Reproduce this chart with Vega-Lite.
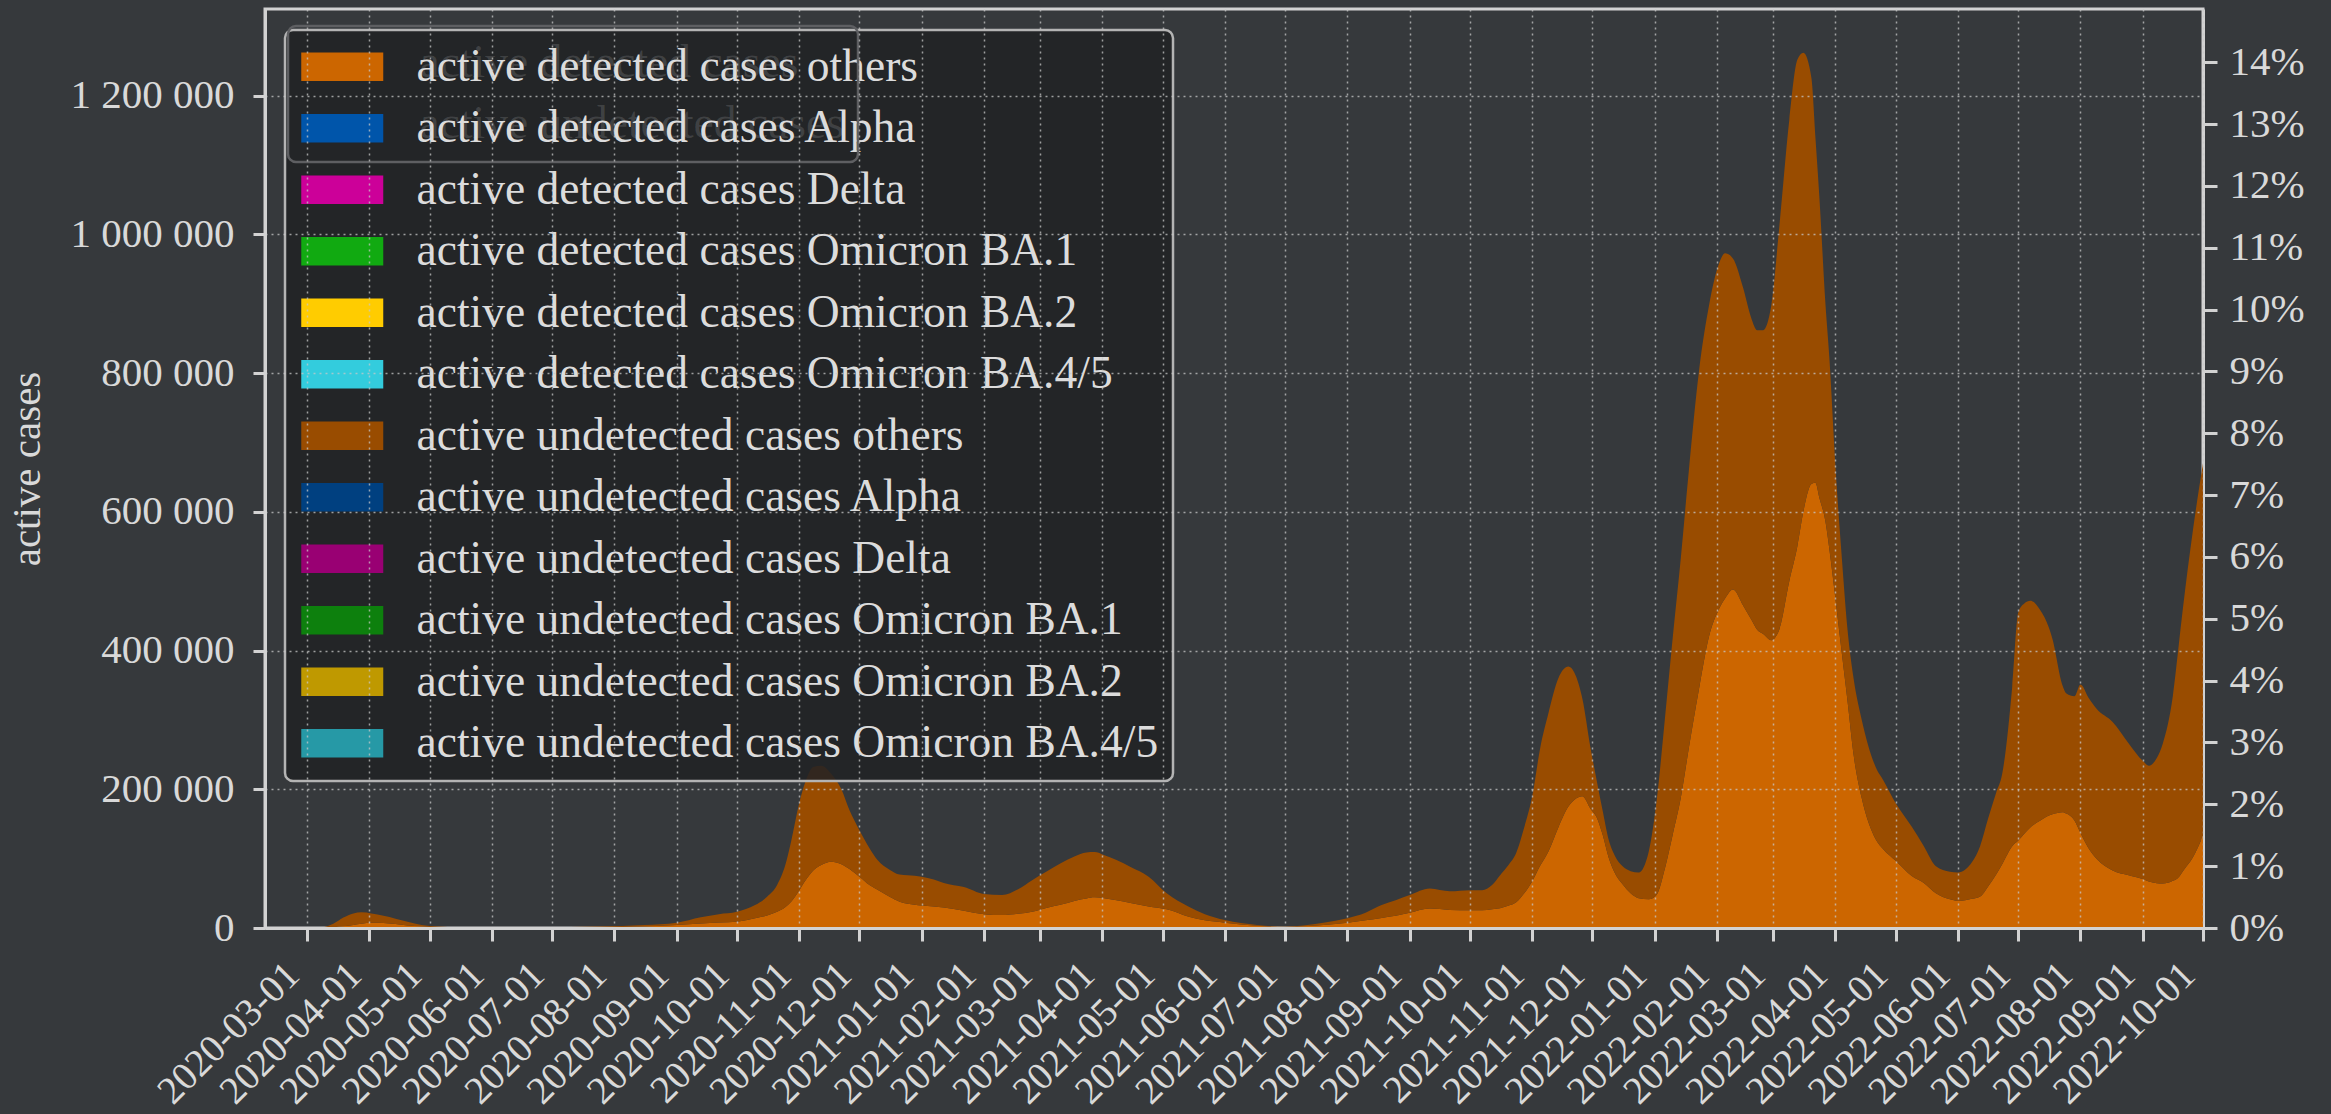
{
  "$schema": "https://vega.github.io/schema/vega-lite/v6.json",
  "width": 1938,
  "height": 919,
  "autosize": {"type": "none"},
  "padding": {"left": 265, "top": 9, "right": 128, "bottom": 186},
  "background": "#36393c",
  "config": {
    "font": "Liberation Serif",
    "locale": {"number": {"decimal": ".", "thousands": " ", "grouping": [3], "currency": ["", ""]}},
    "view": {"stroke": "#d2d2d2", "strokeWidth": 3},
    "axis": {
      "labelFont": "Liberation Serif",
      "labelFontSize": 41,
      "labelColor": "#d9d9d9",
      "titleFont": "Liberation Serif",
      "titleFontSize": 41,
      "titleColor": "#d9d9d9",
      "titleFontWeight": "normal",
      "domainColor": "#d2d2d2",
      "domainWidth": 3,
      "tickColor": "#d2d2d2",
      "tickWidth": 3,
      "tickSize": 13,
      "gridColor": "#c8c8c8",
      "gridDash": [2, 4],
      "gridWidth": 1.5,
      "gridOpacity": 0.75
    }
  },
  "datasets": {
    "active": [
      {"date": "2020-03-01", "active detected cases others": 0, "active undetected cases others": 0},
      {"date": "2020-03-08", "active detected cases others": 100, "active undetected cases others": 500},
      {"date": "2020-03-14", "active detected cases others": 900, "active undetected cases others": 5100},
      {"date": "2020-03-19", "active detected cases others": 2500, "active undetected cases others": 12500},
      {"date": "2020-03-24", "active detected cases others": 4500, "active undetected cases others": 16500},
      {"date": "2020-03-28", "active detected cases others": 6300, "active undetected cases others": 16300},
      {"date": "2020-04-02", "active detected cases others": 7600, "active undetected cases others": 13400},
      {"date": "2020-04-08", "active detected cases others": 7200, "active undetected cases others": 10300},
      {"date": "2020-04-14", "active detected cases others": 5600, "active undetected cases others": 7900},
      {"date": "2020-04-20", "active detected cases others": 3600, "active undetected cases others": 5400},
      {"date": "2020-04-27", "active detected cases others": 2000, "active undetected cases others": 2500},
      {"date": "2020-05-05", "active detected cases others": 1000, "active undetected cases others": 1200},
      {"date": "2020-05-15", "active detected cases others": 600, "active undetected cases others": 500},
      {"date": "2020-06-01", "active detected cases others": 400, "active undetected cases others": 200},
      {"date": "2020-06-20", "active detected cases others": 450, "active undetected cases others": 250},
      {"date": "2020-07-10", "active detected cases others": 800, "active undetected cases others": 500},
      {"date": "2020-07-25", "active detected cases others": 1100, "active undetected cases others": 900},
      {"date": "2020-08-05", "active detected cases others": 1500, "active undetected cases others": 1400},
      {"date": "2020-08-16", "active detected cases others": 2200, "active undetected cases others": 2100},
      {"date": "2020-09-01", "active detected cases others": 4300, "active undetected cases others": 3300},
      {"date": "2020-09-13", "active detected cases others": 6500, "active undetected cases others": 9000},
      {"date": "2020-09-22", "active detected cases others": 8000, "active undetected cases others": 12000},
      {"date": "2020-10-01", "active detected cases others": 9100, "active undetected cases others": 14400},
      {"date": "2020-10-10", "active detected cases others": 14000, "active undetected cases others": 19000},
      {"date": "2020-10-16", "active detected cases others": 18000, "active undetected cases others": 27000},
      {"date": "2020-10-21", "active detected cases others": 23500, "active undetected cases others": 38500},
      {"date": "2020-10-25", "active detected cases others": 30000, "active undetected cases others": 60000},
      {"date": "2020-10-28", "active detected cases others": 38000, "active undetected cases others": 87000},
      {"date": "2020-11-01", "active detected cases others": 54000, "active undetected cases others": 126000},
      {"date": "2020-11-04", "active detected cases others": 68000, "active undetected cases others": 142000},
      {"date": "2020-11-08", "active detected cases others": 83000, "active undetected cases others": 149000},
      {"date": "2020-11-12", "active detected cases others": 91000, "active undetected cases others": 143000},
      {"date": "2020-11-17", "active detected cases others": 95600, "active undetected cases others": 126400},
      {"date": "2020-11-22", "active detected cases others": 92000, "active undetected cases others": 108000},
      {"date": "2020-11-26", "active detected cases others": 85000, "active undetected cases others": 85000},
      {"date": "2020-12-01", "active detected cases others": 74000, "active undetected cases others": 67000},
      {"date": "2020-12-06", "active detected cases others": 62000, "active undetected cases others": 53000},
      {"date": "2020-12-10", "active detected cases others": 55000, "active undetected cases others": 43000},
      {"date": "2020-12-16", "active detected cases others": 45000, "active undetected cases others": 39000},
      {"date": "2020-12-21", "active detected cases others": 38000, "active undetected cases others": 39000},
      {"date": "2020-12-25", "active detected cases others": 35000, "active undetected cases others": 41000},
      {"date": "2021-01-01", "active detected cases others": 32500, "active undetected cases others": 41500},
      {"date": "2021-01-07", "active detected cases others": 31000, "active undetected cases others": 39000},
      {"date": "2021-01-12", "active detected cases others": 29500, "active undetected cases others": 35500},
      {"date": "2021-01-22", "active detected cases others": 25000, "active undetected cases others": 34000},
      {"date": "2021-02-01", "active detected cases others": 20000, "active undetected cases others": 29000},
      {"date": "2021-02-10", "active detected cases others": 18700, "active undetected cases others": 28800},
      {"date": "2021-02-18", "active detected cases others": 20500, "active undetected cases others": 35500},
      {"date": "2021-02-25", "active detected cases others": 23500, "active undetected cases others": 45500},
      {"date": "2021-03-04", "active detected cases others": 29000, "active undetected cases others": 52000},
      {"date": "2021-03-11", "active detected cases others": 33500, "active undetected cases others": 59500},
      {"date": "2021-03-18", "active detected cases others": 39000, "active undetected cases others": 64000},
      {"date": "2021-03-24", "active detected cases others": 42500, "active undetected cases others": 66500},
      {"date": "2021-03-28", "active detected cases others": 44200, "active undetected cases others": 65300},
      {"date": "2021-04-02", "active detected cases others": 43000, "active undetected cases others": 62000},
      {"date": "2021-04-08", "active detected cases others": 40000, "active undetected cases others": 58000},
      {"date": "2021-04-15", "active detected cases others": 36000, "active undetected cases others": 52000},
      {"date": "2021-04-24", "active detected cases others": 31000, "active undetected cases others": 43000},
      {"date": "2021-05-03", "active detected cases others": 27000, "active undetected cases others": 23000},
      {"date": "2021-05-14", "active detected cases others": 16300, "active undetected cases others": 14400},
      {"date": "2021-05-22", "active detected cases others": 11000, "active undetected cases others": 9000},
      {"date": "2021-06-01", "active detected cases others": 7600, "active undetected cases others": 3900},
      {"date": "2021-06-17", "active detected cases others": 3200, "active undetected cases others": 1100},
      {"date": "2021-07-01", "active detected cases others": 1500, "active undetected cases others": 400},
      {"date": "2021-07-10", "active detected cases others": 2500, "active undetected cases others": 1000},
      {"date": "2021-07-20", "active detected cases others": 4500, "active undetected cases others": 3100},
      {"date": "2021-08-01", "active detected cases others": 7600, "active undetected cases others": 6400},
      {"date": "2021-08-10", "active detected cases others": 11000, "active undetected cases others": 11000},
      {"date": "2021-08-18", "active detected cases others": 14500, "active undetected cases others": 18500},
      {"date": "2021-08-25", "active detected cases others": 17500, "active undetected cases others": 22500},
      {"date": "2021-09-01", "active detected cases others": 22000, "active undetected cases others": 25600},
      {"date": "2021-09-11", "active detected cases others": 28000, "active undetected cases others": 29000},
      {"date": "2021-09-21", "active detected cases others": 26000, "active undetected cases others": 27000},
      {"date": "2021-10-01", "active detected cases others": 25500, "active undetected cases others": 29000},
      {"date": "2021-10-07", "active detected cases others": 25500, "active undetected cases others": 29000},
      {"date": "2021-10-12", "active detected cases others": 27000, "active undetected cases others": 35000},
      {"date": "2021-10-16", "active detected cases others": 28500, "active undetected cases others": 47500},
      {"date": "2021-10-20", "active detected cases others": 32000, "active undetected cases others": 58000},
      {"date": "2021-10-24", "active detected cases others": 37000, "active undetected cases others": 71000},
      {"date": "2021-10-28", "active detected cases others": 50000, "active undetected cases others": 95000},
      {"date": "2021-11-01", "active detected cases others": 67500, "active undetected cases others": 122500},
      {"date": "2021-11-05", "active detected cases others": 90000, "active undetected cases others": 170000},
      {"date": "2021-11-09", "active detected cases others": 110000, "active undetected cases others": 199000},
      {"date": "2021-11-14", "active detected cases others": 145000, "active undetected cases others": 215000},
      {"date": "2021-11-19", "active detected cases others": 175000, "active undetected cases others": 202000},
      {"date": "2021-11-22", "active detected cases others": 185000, "active undetected cases others": 183000},
      {"date": "2021-11-26", "active detected cases others": 190000, "active undetected cases others": 140000},
      {"date": "2021-11-30", "active detected cases others": 172000, "active undetected cases others": 88000},
      {"date": "2021-12-03", "active detected cases others": 160000, "active undetected cases others": 54000},
      {"date": "2021-12-06", "active detected cases others": 135000, "active undetected cases others": 35000},
      {"date": "2021-12-09", "active detected cases others": 102000, "active undetected cases others": 26000},
      {"date": "2021-12-12", "active detected cases others": 80000, "active undetected cases others": 25000},
      {"date": "2021-12-16", "active detected cases others": 63000, "active undetected cases others": 26000},
      {"date": "2021-12-20", "active detected cases others": 50000, "active undetected cases others": 32000},
      {"date": "2021-12-24", "active detected cases others": 43000, "active undetected cases others": 37000},
      {"date": "2021-12-29", "active detected cases others": 41500, "active undetected cases others": 68500},
      {"date": "2022-01-02", "active detected cases others": 48000, "active undetected cases others": 137000},
      {"date": "2022-01-06", "active detected cases others": 85000, "active undetected cases others": 215000},
      {"date": "2022-01-10", "active detected cases others": 135000, "active undetected cases others": 285000},
      {"date": "2022-01-14", "active detected cases others": 188000, "active undetected cases others": 346000},
      {"date": "2022-01-18", "active detected cases others": 260000, "active undetected cases others": 400000},
      {"date": "2022-01-23", "active detected cases others": 344000, "active undetected cases others": 458000},
      {"date": "2022-01-28", "active detected cases others": 420000, "active undetected cases others": 477000},
      {"date": "2022-02-02", "active detected cases others": 460000, "active undetected cases others": 498000},
      {"date": "2022-02-05", "active detected cases others": 475000, "active undetected cases others": 498000},
      {"date": "2022-02-09", "active detected cases others": 488000, "active undetected cases others": 477000},
      {"date": "2022-02-14", "active detected cases others": 465000, "active undetected cases others": 458000},
      {"date": "2022-02-18", "active detected cases others": 445000, "active undetected cases others": 435000},
      {"date": "2022-02-21", "active detected cases others": 430000, "active undetected cases others": 432000},
      {"date": "2022-02-24", "active detected cases others": 424000, "active undetected cases others": 438000},
      {"date": "2022-02-28", "active detected cases others": 415000, "active undetected cases others": 482000},
      {"date": "2022-03-04", "active detected cases others": 430000, "active undetected cases others": 580000},
      {"date": "2022-03-09", "active detected cases others": 500000, "active undetected cases others": 665000},
      {"date": "2022-03-13", "active detected cases others": 550000, "active undetected cases others": 702000},
      {"date": "2022-03-16", "active detected cases others": 600000, "active undetected cases others": 662000},
      {"date": "2022-03-20", "active detected cases others": 640000, "active undetected cases others": 586000},
      {"date": "2022-03-22", "active detected cases others": 642000, "active undetected cases others": 498000},
      {"date": "2022-03-24", "active detected cases others": 620000, "active undetected cases others": 433000},
      {"date": "2022-03-27", "active detected cases others": 586000, "active undetected cases others": 314000},
      {"date": "2022-03-29", "active detected cases others": 545000, "active undetected cases others": 275000},
      {"date": "2022-04-01", "active detected cases others": 474000, "active undetected cases others": 190000},
      {"date": "2022-04-04", "active detected cases others": 400000, "active undetected cases others": 140000},
      {"date": "2022-04-07", "active detected cases others": 327000, "active undetected cases others": 103000},
      {"date": "2022-04-10", "active detected cases others": 250000, "active undetected cases others": 110000},
      {"date": "2022-04-14", "active detected cases others": 188000, "active undetected cases others": 113000},
      {"date": "2022-04-21", "active detected cases others": 128000, "active undetected cases others": 104000},
      {"date": "2022-04-25", "active detected cases others": 113000, "active undetected cases others": 99000},
      {"date": "2022-05-01", "active detected cases others": 97000, "active undetected cases others": 83000},
      {"date": "2022-05-09", "active detected cases others": 75000, "active undetected cases others": 71000},
      {"date": "2022-05-15", "active detected cases others": 65000, "active undetected cases others": 53000},
      {"date": "2022-05-21", "active detected cases others": 50000, "active undetected cases others": 39000},
      {"date": "2022-05-28", "active detected cases others": 41400, "active undetected cases others": 39600},
      {"date": "2022-06-01", "active detected cases others": 39000, "active undetected cases others": 41000},
      {"date": "2022-06-08", "active detected cases others": 42000, "active undetected cases others": 53000},
      {"date": "2022-06-12", "active detected cases others": 45300, "active undetected cases others": 72700},
      {"date": "2022-06-16", "active detected cases others": 60000, "active undetected cases others": 98000},
      {"date": "2022-06-20", "active detected cases others": 77000, "active undetected cases others": 118000},
      {"date": "2022-06-23", "active detected cases others": 92000, "active undetected cases others": 130000},
      {"date": "2022-06-28", "active detected cases others": 118000, "active undetected cases others": 230000},
      {"date": "2022-07-01", "active detected cases others": 126000, "active undetected cases others": 329000},
      {"date": "2022-07-04", "active detected cases others": 136000, "active undetected cases others": 332000},
      {"date": "2022-07-07", "active detected cases others": 145000, "active undetected cases others": 327000},
      {"date": "2022-07-12", "active detected cases others": 155000, "active undetected cases others": 303000},
      {"date": "2022-07-16", "active detected cases others": 162000, "active undetected cases others": 273000},
      {"date": "2022-07-18", "active detected cases others": 164000, "active undetected cases others": 253000},
      {"date": "2022-07-23", "active detected cases others": 167000, "active undetected cases others": 183000},
      {"date": "2022-07-25", "active detected cases others": 165000, "active undetected cases others": 173000},
      {"date": "2022-07-29", "active detected cases others": 155000, "active undetected cases others": 179000},
      {"date": "2022-08-01", "active detected cases others": 137000, "active undetected cases others": 214000},
      {"date": "2022-08-05", "active detected cases others": 115000, "active undetected cases others": 217000},
      {"date": "2022-08-09", "active detected cases others": 100000, "active undetected cases others": 216000},
      {"date": "2022-08-17", "active detected cases others": 83000, "active undetected cases others": 214000},
      {"date": "2022-08-25", "active detected cases others": 76000, "active undetected cases others": 190000},
      {"date": "2022-09-01", "active detected cases others": 70500, "active undetected cases others": 170500},
      {"date": "2022-09-04", "active detected cases others": 67000, "active undetected cases others": 167000},
      {"date": "2022-09-08", "active detected cases others": 64500, "active undetected cases others": 180500},
      {"date": "2022-09-11", "active detected cases others": 64200, "active undetected cases others": 201800},
      {"date": "2022-09-16", "active detected cases others": 68000, "active undetected cases others": 267000},
      {"date": "2022-09-19", "active detected cases others": 73700, "active undetected cases others": 336300},
      {"date": "2022-09-21", "active detected cases others": 82000, "active undetected cases others": 379000},
      {"date": "2022-09-26", "active detected cases others": 102000, "active undetected cases others": 472000},
      {"date": "2022-10-01", "active detected cases others": 133000, "active undetected cases others": 537000}
    ],
    "share": [
      {"share": 0, "series": "active detected cases"},
      {"share": 0, "series": "active undetected cases"}
    ]
  },
  "layer": [
    {
      "data": {"name": "active"},
      "transform": [
        {"fold": ["active detected cases others", "active undetected cases others"], "as": ["series", "cases"]}
      ],
      "mark": {"type": "area", "interpolate": "monotone", "clip": true},
      "encoding": {
        "x": {
          "field": "date",
          "type": "temporal",
          "scale": {
            "type": "utc",
            "domain": [
              {"year": 2020, "month": 2, "date": 9, "utc": true},
              {"year": 2022, "month": 10, "date": 1, "utc": true}
            ]
          },
          "axis": {
            "title": null,
            "labelExpr": "utcFormat(datum.value, '%Y-%m-%d')",
            "tickCount": {"interval": "month", "step": 1},
            "labelFontSize": 39,
            "labelAngle": -45,
            "labelAlign": "right",
            "labelBaseline": "top",
            "labelOffset": -28,
            "labelPadding": 14,
            "labelLimit": 400,
            "labelOverlap": false,
            "labelFlush": false,
            "grid": true,
            "zindex": 1
          }
        },
        "y": {
          "field": "cases",
          "type": "quantitative",
          "stack": "zero",
          "scale": {"domain": [0, 1325000], "nice": false},
          "axis": {
            "title": "active cases",
            "titleAngle": -90,
            "titleX": -238,
            "titleY": 459.5,
            "titleAlign": "center",
            "titleBaseline": "middle",
            "values": [0, 200000, 400000, 600000, 800000, 1000000, 1200000],
            "format": ",d",
            "tickSize": 12,
            "labelPadding": 19,
            "grid": true,
            "zindex": 1
          }
        },
        "color": {
          "field": "series",
          "type": "nominal",
          "scale": {
            "domain": [
              "active detected cases others",
              "active detected cases Alpha",
              "active detected cases Delta",
              "active detected cases Omicron BA.1",
              "active detected cases Omicron BA.2",
              "active detected cases Omicron BA.4/5",
              "active undetected cases others",
              "active undetected cases Alpha",
              "active undetected cases Delta",
              "active undetected cases Omicron BA.1",
              "active undetected cases Omicron BA.2",
              "active undetected cases Omicron BA.4/5"
            ],
            "range": [
              "#cc6600", "#0055aa", "#cc0099", "#11aa11", "#ffcc00", "#33ccdd",
              "#994c00", "#004080", "#990073", "#0d800d", "#bf9900", "#2699a6"
            ]
          },
          "legend": {
            "title": null,
            "orient": "none",
            "legendX": 20,
            "legendY": 21,
            "direction": "vertical",
            "symbolType": "M-1,-0.7H3V0.7H-1Z",
            "symbolSize": 1681,
            "symbolStrokeWidth": 0,
            "symbolOpacity": 1,
            "labelFont": "Liberation Serif",
            "labelFontSize": 45.5,
            "labelColor": "#dcdcdc",
            "labelOffset": 72,
            "labelLimit": 0,
            "rowPadding": 14.5,
            "padding": 14,
            "fillColor": "rgba(33,34,36,0.86)",
            "strokeColor": "#b4b4b4",
            "cornerRadius": 8,
            "encode": {"legend": {"update": {"strokeWidth": {"value": 2.5}}}}
          }
        },
        "order": {"field": "series", "sort": "ascending"}
      }
    },
    {
      "data": {"name": "share"},
      "mark": {"type": "rule", "opacity": 0},
      "encoding": {
        "y": {
          "field": "share",
          "type": "quantitative",
          "scale": {"domain": [0, 0.14862], "nice": false},
          "axis": {
            "orient": "right",
            "title": null,
            "values": [0, 0.01, 0.02, 0.03, 0.04, 0.05, 0.06, 0.07, 0.08, 0.09, 0.1, 0.11, 0.12, 0.13, 0.14],
            "format": ".0%",
            "tickSize": 14,
            "labelPadding": 12,
            "grid": false
          }
        },
        "color": {
          "field": "series",
          "type": "nominal",
          "scale": {
            "domain": ["active detected cases", "active undetected cases"],
            "range": ["#cc6600", "#994c00"]
          },
          "legend": {
            "title": null,
            "orient": "none",
            "legendX": 23,
            "legendY": 17,
            "direction": "vertical",
            "symbolType": "M-1,-0.7H3V0.7H-1Z",
            "symbolSize": 1681,
            "symbolOpacity": 0,
            "symbolStrokeWidth": 0,
            "labelFont": "Liberation Serif",
            "labelFontSize": 45.5,
            "labelColor": "#dcdcdc",
            "labelOpacity": 0.16,
            "labelOffset": 72,
            "labelLimit": 0,
            "rowPadding": 14.5,
            "padding": 14,
            "fillColor": "transparent",
            "strokeColor": "#5e5f62",
            "cornerRadius": 8,
            "encode": {"legend": {"update": {"strokeWidth": {"value": 2.5}}}}
          }
        }
      }
    }
  ],
  "resolve": {"scale": {"y": "independent", "color": "independent"}}
}
